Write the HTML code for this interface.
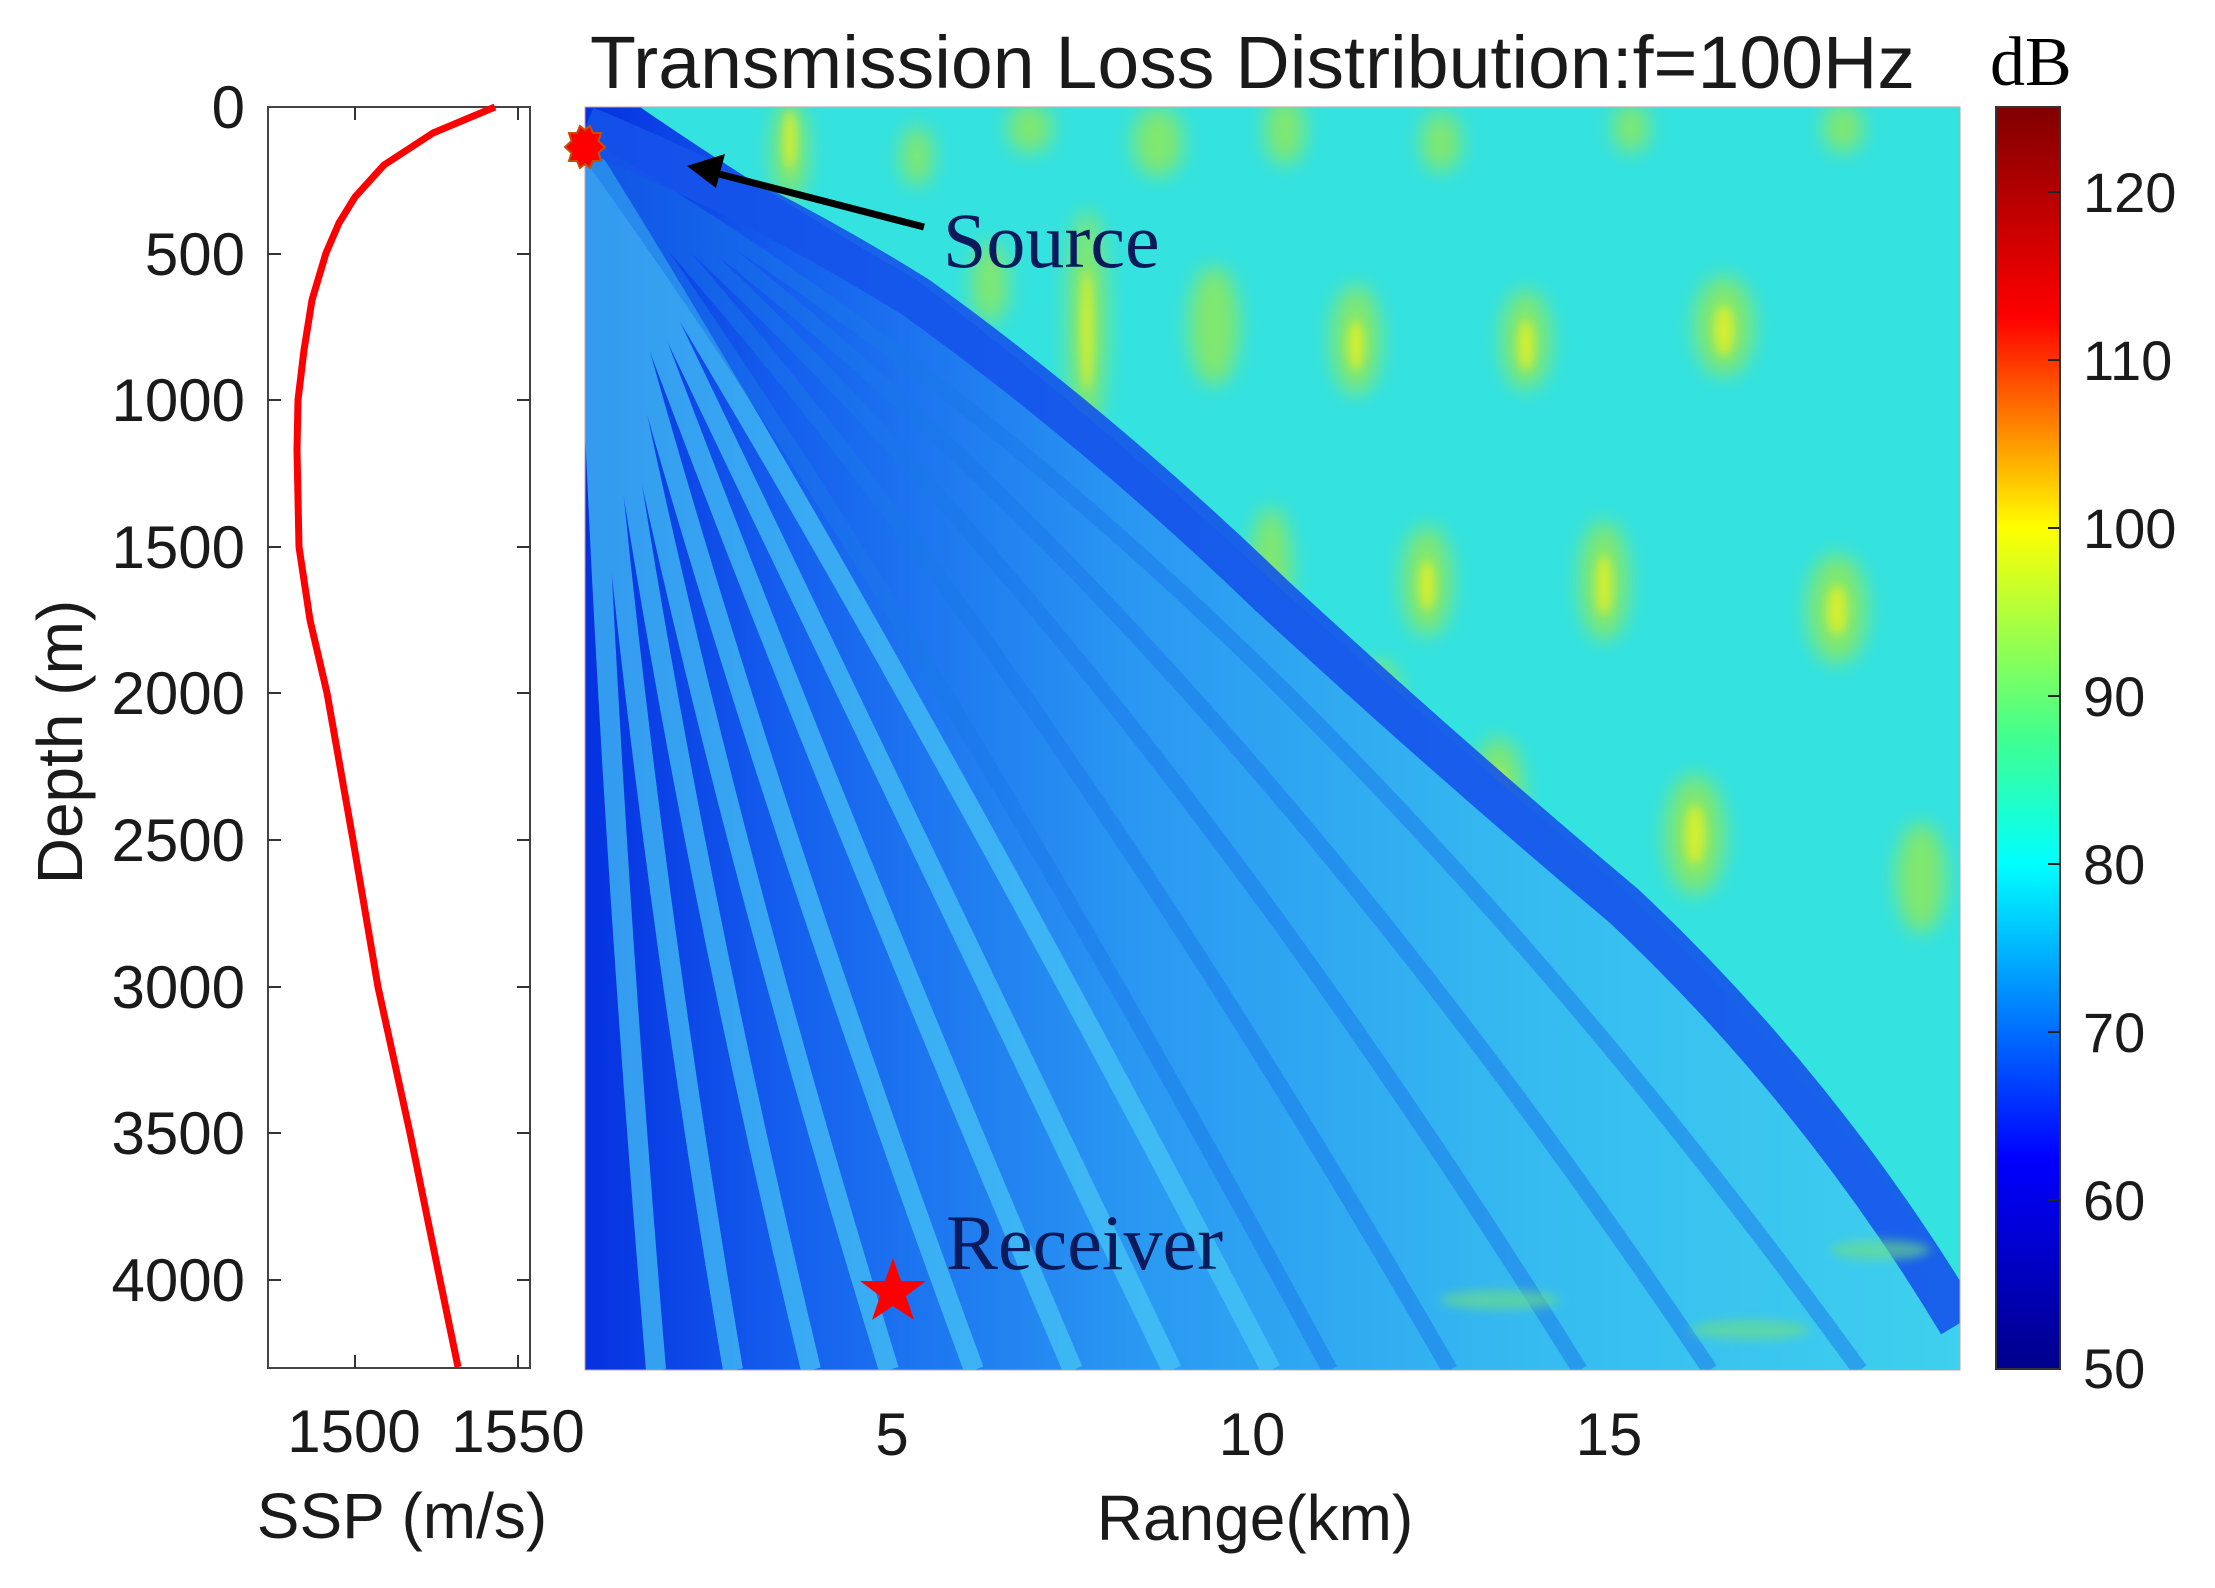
<!DOCTYPE html>
<html><head><meta charset="utf-8"><style>
html,body{margin:0;padding:0;background:#fff;}
svg{display:block;}
text{font-family:"Liberation Sans",sans-serif;fill:#1a1a1a;}
</style></head><body>
<svg width="2215" height="1588" viewBox="0 0 2215 1588" xmlns="http://www.w3.org/2000/svg">
<defs>
<linearGradient id="jet" x1="0" y1="0" x2="0" y2="1">
<stop offset="0" stop-color="#800000"/>
<stop offset="0.1667" stop-color="#ff0000"/>
<stop offset="0.3333" stop-color="#ffff00"/>
<stop offset="0.5" stop-color="#40ff90"/>
<stop offset="0.6" stop-color="#00ffff"/>
<stop offset="0.8333" stop-color="#0000ff"/>
<stop offset="1" stop-color="#00008a"/>
</linearGradient>
<linearGradient id="fan" x1="585" y1="0" x2="1960" y2="0" gradientUnits="userSpaceOnUse">
<stop offset="0" stop-color="#0530e0"/>
<stop offset="0.15" stop-color="#1560ee"/>
<stop offset="0.4" stop-color="#2a98f2"/>
<stop offset="0.7" stop-color="#36bcf0"/>
<stop offset="1" stop-color="#3ed0ee"/>
</linearGradient>
<filter id="blur" x="-50%" y="-50%" width="200%" height="200%"><feGaussianBlur stdDeviation="10"/></filter>
<filter id="blur2" x="-50%" y="-50%" width="200%" height="200%"><feGaussianBlur stdDeviation="5"/></filter>
<clipPath id="clipMain"><rect x="585" y="107" width="1375" height="1263"/></clipPath>
</defs>

<text x="590" y="88" font-size="74" textLength="1325" lengthAdjust="spacingAndGlyphs" fill="#000">Transmission Loss Distribution:f=100Hz</text>
<text x="1990" y="85" font-size="70" style="font-family:'Liberation Serif',serif;fill:#000">dB</text>

<g clip-path="url(#clipMain)">
<rect x="585" y="107" width="1375" height="1263" fill="#34e2e0"/>
<g filter="url(#blur)" fill="#8ee85c" opacity="0.85">
<ellipse cx="790" cy="150" rx="18" ry="50"/>
<ellipse cx="917" cy="156" rx="16" ry="30"/>
<ellipse cx="1030" cy="128" rx="22" ry="25"/>
<ellipse cx="1087" cy="320" rx="20" ry="110"/>
<ellipse cx="990" cy="283" rx="18" ry="40"/>
<ellipse cx="1158" cy="142" rx="25" ry="35"/>
<ellipse cx="1214" cy="326" rx="25" ry="60"/>
<ellipse cx="1285" cy="130" rx="20" ry="35"/>
<ellipse cx="1356" cy="340" rx="25" ry="55"/>
<ellipse cx="1441" cy="142" rx="20" ry="30"/>
<ellipse cx="1526" cy="340" rx="25" ry="50"/>
<ellipse cx="1724" cy="326" rx="30" ry="50"/>
<ellipse cx="1631" cy="128" rx="18" ry="25"/>
<ellipse cx="1843" cy="128" rx="20" ry="25"/>
<ellipse cx="1271" cy="567" rx="20" ry="60"/>
<ellipse cx="1427" cy="581" rx="25" ry="55"/>
<ellipse cx="1604" cy="581" rx="25" ry="60"/>
<ellipse cx="1837" cy="609" rx="30" ry="55"/>
<ellipse cx="1498" cy="793" rx="25" ry="55"/>
<ellipse cx="1695" cy="835" rx="30" ry="60"/>
<ellipse cx="1921" cy="878" rx="25" ry="55"/>
<ellipse cx="1419" cy="1260" rx="18" ry="20"/>
<ellipse cx="1638" cy="1260" rx="18" ry="20"/>
<ellipse cx="1380" cy="700" rx="20" ry="40"/>
</g>
<g filter="url(#blur2)" fill="#e8f020" opacity="0.8">
<ellipse cx="1087" cy="330" rx="6" ry="60"/>
<ellipse cx="1356" cy="345" rx="8" ry="25"/>
<ellipse cx="1526" cy="345" rx="8" ry="25"/>
<ellipse cx="1724" cy="330" rx="10" ry="25"/>
<ellipse cx="1604" cy="585" rx="8" ry="30"/>
<ellipse cx="1837" cy="610" rx="10" ry="25"/>
<ellipse cx="1695" cy="835" rx="10" ry="30"/>
<ellipse cx="1427" cy="585" rx="8" ry="25"/>
<ellipse cx="1498" cy="795" rx="8" ry="25"/>
<ellipse cx="790" cy="140" rx="6" ry="30"/>
</g>
<path d="M585 107 L640 107 Q760 190 917 280 Q1100 420 1271 580 Q1450 740 1624 890 Q1820 1080 1960 1290 L1960 1370 L585 1370 Z" fill="url(#fan)"/>
<g fill="none" stroke="#48c8f6" stroke-width="20" opacity="0.7">
<path d="M585 147 Q600 700 656 1370"/>
<path d="M585 147 Q620 700 733 1370"/>
<path d="M585 147 Q650 700 811 1370"/>
<path d="M585 147 Q680 690 889 1370"/>
<path d="M585 147 Q720 680 974 1370"/>
<path d="M585 147 Q770 660 1073 1370"/>
<path d="M585 147 Q820 640 1172 1370"/>
<path d="M585 147 Q880 620 1271 1370"/>
</g>
<g fill="none" stroke="#1a78ea" stroke-width="16" opacity="0.5">
<path d="M585 147 Q920 610 1330 1370"/>
<path d="M585 147 Q1000 590 1450 1370"/>
<path d="M585 147 Q1080 570 1580 1370"/>
<path d="M585 147 Q1160 550 1710 1370"/>
<path d="M585 147 Q1250 530 1860 1370"/>
</g>
<path d="M585 128 Q760 200 917 298 Q1100 430 1271 595 Q1450 760 1624 906 Q1820 1090 1960 1323" fill="none" stroke="#1553ea" stroke-width="44" opacity="0.9"/>
<g filter="url(#blur2)" fill="#70e080" opacity="0.6">
<ellipse cx="1500" cy="1300" rx="60" ry="10"/>
<ellipse cx="1750" cy="1330" rx="60" ry="10"/>
<ellipse cx="1880" cy="1250" rx="50" ry="10"/>
</g>
</g>
<rect x="585" y="107" width="1375" height="1263" fill="none" stroke="#c8a0a0" stroke-width="1"/>

<polygon fill="#ff0000" stroke="#c05010" stroke-width="2" points="605,147 598.5,153 601,161 593,161 590,168 585,164 580,168 577,161 569,161 571.5,153 565,147 571.5,141 569,133 577,133 580,126 585,130 590,126 593,133 601,133 598.5,141"/>
<line x1="924" y1="227" x2="715" y2="173" stroke="#000" stroke-width="7"/>
<polygon points="687,166 725,154 716,188" fill="#000"/>
<text x="943" y="267" font-size="78" style="font-family:'Liberation Serif',serif;fill:#0a1a5a">Source</text>
<text x="946" y="1269" font-size="78" style="font-family:'Liberation Serif',serif;fill:#0a1a5a">Receiver</text>
<polygon fill="#ff0000" points="893,1258 901,1281 926,1281 906,1296 914,1320 893,1306 872,1320 880,1296 860,1281 885,1281"/>

<g font-size="60" text-anchor="middle">
<text x="892" y="1455">5</text>
<text x="1252" y="1455">10</text>
<text x="1609" y="1455">15</text>
<text x="1255" y="1540" font-size="64">Range(km)</text>
</g>

<rect x="268" y="107" width="262" height="1261" fill="#fff" stroke="#444" stroke-width="2"/>
<g stroke="#333" stroke-width="2">
<line x1="355" y1="107" x2="355" y2="120"/><line x1="518" y1="107" x2="518" y2="120"/>
<line x1="355" y1="1368" x2="355" y2="1355"/><line x1="518" y1="1368" x2="518" y2="1355"/>
<line x1="268" y1="254" x2="281" y2="254"/><line x1="530" y1="254" x2="517" y2="254"/>
<line x1="268" y1="400" x2="281" y2="400"/><line x1="530" y1="400" x2="517" y2="400"/>
<line x1="268" y1="547" x2="281" y2="547"/><line x1="530" y1="547" x2="517" y2="547"/>
<line x1="268" y1="693" x2="281" y2="693"/><line x1="530" y1="693" x2="517" y2="693"/>
<line x1="268" y1="840" x2="281" y2="840"/><line x1="530" y1="840" x2="517" y2="840"/>
<line x1="268" y1="987" x2="281" y2="987"/><line x1="530" y1="987" x2="517" y2="987"/>
<line x1="268" y1="1133" x2="281" y2="1133"/><line x1="530" y1="1133" x2="517" y2="1133"/>
<line x1="268" y1="1280" x2="281" y2="1280"/><line x1="530" y1="1280" x2="517" y2="1280"/>
</g>
<polyline fill="none" stroke="#ff0000" stroke-width="7" stroke-linejoin="round" points="495,107 433,133 384,165 355,197 339,223 326,253 312,300 304,350 298,400 297,450 299,547 310,620 327,693 353,840 378,987 410,1133 440,1280 458,1367"/>
<g font-size="60" text-anchor="end">
<text x="245" y="128">0</text>
<text x="245" y="275">500</text>
<text x="245" y="421">1000</text>
<text x="245" y="568">1500</text>
<text x="245" y="714">2000</text>
<text x="245" y="861">2500</text>
<text x="245" y="1008">3000</text>
<text x="245" y="1154">3500</text>
<text x="245" y="1301">4000</text>
</g>
<g font-size="64" text-anchor="middle">
<text x="402" y="1538">SSP (m/s)</text>
<text x="0" y="0" transform="translate(82,742) rotate(-90)">Depth (m)</text>
</g>
<g font-size="60" text-anchor="middle">
<text x="354" y="1452">1500</text>
<text x="518" y="1452">1550</text>
</g>

<rect x="1996" y="107" width="64" height="1262" fill="url(#jet)" stroke="#333" stroke-width="2"/>
<g stroke="#222" stroke-width="2">
<line x1="2060" y1="192" x2="2048" y2="192"/>
<line x1="2060" y1="360" x2="2048" y2="360"/>
<line x1="2060" y1="528" x2="2048" y2="528"/>
<line x1="2060" y1="696" x2="2048" y2="696"/>
<line x1="2060" y1="864" x2="2048" y2="864"/>
<line x1="2060" y1="1032" x2="2048" y2="1032"/>
<line x1="2060" y1="1200" x2="2048" y2="1200"/>
</g>
<g font-size="56">
<text x="2083" y="212">120</text>
<text x="2083" y="380">110</text>
<text x="2083" y="548">100</text>
<text x="2083" y="716">90</text>
<text x="2083" y="884">80</text>
<text x="2083" y="1052">70</text>
<text x="2083" y="1220">60</text>
<text x="2083" y="1388">50</text>
</g>
</svg>
</body></html>
